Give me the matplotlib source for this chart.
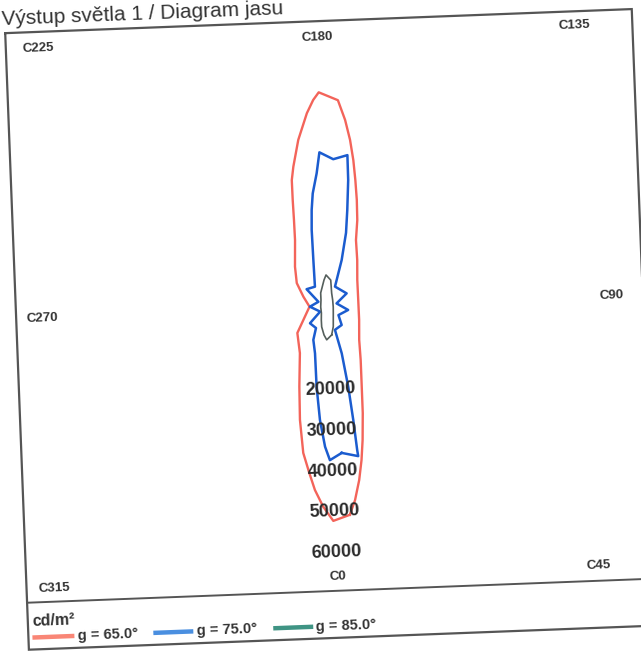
import numpy as np
import matplotlib.pyplot as plt
from matplotlib.transforms import Affine2D

plt.rcParams['font.family'] = ['Liberation Sans', 'DejaVu Sans']

# Luminance curves: C-plane angle (deg) and luminance (cd/m2), one curve per gamma
c_g65 = [4.1, 6.1, 8.4, 10.6, 12.9, 16.6, 21.6, 30.7, 43.1, 67.5, 102.1, 130.5,
         145.6, 154.7, 158.8, 162.4, 165.3, 167.7, 170.0, 172.3, 174.8, 180.0,
         181.6, 183.7, 187.5, 191.2, 193.2, 195.4, 198.4, 203.0, 215.6, 228.3,
         242.3, 263.5, 294.7, 307.9, 326.8, 338.4, 344.2, 348.5, 351.7, 354.0,
         356.7, 359.5]
l_g65 = [51000, 47600, 42900, 38200, 33500, 27200, 21100, 15200, 11100, 8400,
         7900, 10100, 13900, 18100, 22800, 27500, 32100, 36800, 41600, 46300,
         51000, 52900, 51100, 48000, 41800, 35600, 32500, 27800, 23000, 18400,
         12800, 9600, 6400, 4300, 6500, 9500, 12900, 20400, 28200, 36000,
         40700, 44700, 48700, 52200]

c_g75 = [3.6, 9.7, 9.8, 11.0, 12.9, 15.8, 17.8, 38.6, 56.1, 82.5, 113.5, 124.5,
         157.3, 160.8, 163.6, 166.1, 168.4, 170.2, 175.4, 180.6, 182.2, 184.9,
         186.7, 188.9, 193.7, 207.3, 225.1, 232.0, 263.4, 295.6, 309.7, 329.0,
         334.6, 343.0, 350.3, 354.2, 357.0, 358.9]
l_g75 = [35700, 37100, 35600, 28200, 20000, 11700, 5700, 5500, 3300, 5200,
         2600, 6000, 5600, 12300, 19000, 24500, 31800, 37800, 36500, 38200,
         33100, 28300, 24300, 19500, 12200, 6000, 6800, 2600, 4200, 1900,
         5600, 5600, 8500, 11500, 19500, 27500, 34000, 37300]

c_g85 = [7.7, 16.5, 25.6, 49.3, 96.9, 142.4, 160.3, 170.2, 179.5, 183.9,
         200.6, 214.8, 258.8, 309.4, 332.4, 342.0, 351.5, 357.3]
l_g85 = [6700, 4800, 3300, 1970, 1550, 2400, 3800, 6900, 8100, 6900,
         4000, 2450, 1560, 1840, 3250, 4800, 6650, 7800]

series_labels = ['g = 65.0°', 'g = 75.0°', 'g = 85.0°']
ring_values = [20000, 30000, 40000, 50000, 60000]
c_plane_labels = ['C0', 'C45', 'C90', 'C135', 'C180', 'C225', 'C270', 'C315']
title = 'Výstup světla 1 / Diagram jasu'
unit = 'cd/m²'

curve_colors = ['#f3645a', '#1b5ccf', '#555f5c']
legend_colors = ['#f98676', '#4a8fe0', '#3f9484']
ink = '#333333'

# sheet geometry in pixels, origin at the polar centre
W, H = 641, 652
cx, cy = 327, 344
tilt = 2.2                      # the sheet sits slightly turned
px_per_cd = 40.8 / 10000
r_max = 70000

fig = plt.figure(figsize=(W / 100, H / 100), dpi=100)
frame = fig.add_axes([0, 0, 1, 1])
frame.set_xlim(-cx, W - cx)
frame.set_ylim(-cy, H - cy)
frame.axis('off')
rot = Affine2D().rotate_deg(tilt) + frame.transData

# outer frame, separator above the legend strip
left, right, top, sep, bottom = -311, 316, 287, -283, -330
frame.plot([left, right, right, left, left], [top, top, bottom, bottom, top],
           color='#555555', lw=1.6, transform=rot, solid_joinstyle='miter')
frame.plot([left, right], [sep, sep], color='#555555', lw=1.4, transform=rot)

frame.text(-314, 295, title, transform=rot, rotation=tilt, rotation_mode='anchor',
           ha='left', va='baseline', fontsize=15, color=ink)

# C-plane labels around the diagram
label_pos = {'C0': (0, -269), 'C45': (261, -268), 'C90': (285, 2),
             'C135': (258, 273), 'C180': (1, 271), 'C225': (-279, 271),
             'C270': (-285, 1), 'C315': (-283, -270)}
for name in c_plane_labels:
    x, y = label_pos[name]
    frame.text(x, y, name, transform=rot, rotation=tilt, rotation_mode='anchor',
               ha='center', va='center', fontsize=9.5, fontweight='bold', color=ink)

# legend strip
frame.text(-307, -306, unit, transform=rot, rotation=tilt, rotation_mode='anchor',
           ha='left', va='baseline', fontsize=11.5, fontweight='bold', color=ink)
legend_x = [(-307, -265), (-186, -146), (-66, -26)]
for (x0, x1), lab, col in zip(legend_x, series_labels, legend_colors):
    frame.plot([x0, x1], [-318, -318], color=col, lw=3.2,
               solid_capstyle='butt', transform=rot)
    frame.text(x1 + 3, -318, lab, transform=rot, rotation=tilt,
               rotation_mode='anchor', ha='left', va='center',
               fontsize=10.5, fontweight='bold', color=ink)

# polar diagram, C0 pointing down
R = r_max * px_per_cd
pax = fig.add_axes([(cx - R) / W, (cy - R) / H, 2 * R / W, 2 * R / H],
                   projection='polar')
pax.set_theta_offset(np.deg2rad(-90 + tilt))
pax.set_theta_direction(1)
pax.set_ylim(0, r_max)
pax.axis('off')

for c, l, col, lw in zip([c_g65, c_g75, c_g85], [l_g65, l_g75, l_g85],
                         curve_colors, [1.7, 1.8, 1.2]):
    th = np.deg2rad(np.append(c, c[0]))
    rr = np.append(l, l[0])
    pax.plot(th, rr, color=col, lw=lw, zorder=2)

for v in ring_values:
    pax.text(0, v, str(v), rotation=tilt, rotation_mode='anchor',
             ha='center', va='center', fontsize=13, fontweight='bold',
             color='#2a2a2a', zorder=5)

fig.savefig('out.png', dpi=100)
